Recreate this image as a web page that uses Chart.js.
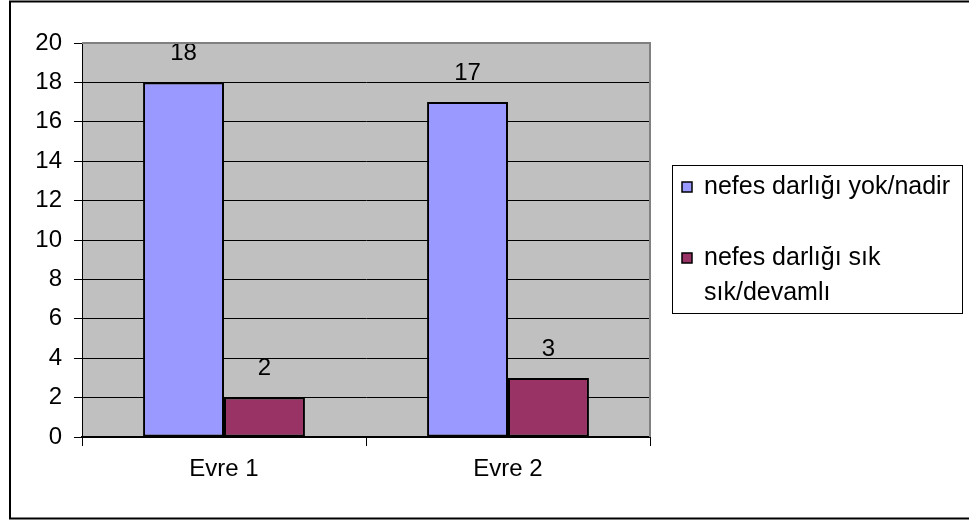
<!DOCTYPE html>
<html lang="tr">
<head>
    <meta charset="UTF-8">
    <title>Nefes darlığı - Evre</title>
    <style>
        body {
            margin: 0;
            padding: 0;
            background: #fff;
        }
        #chartBox {
            width: 969px;
            height: 522px;
        }
    </style>
</head>
<body>
    <div id="chartBox">
        <canvas id="barChart" width="969" height="522"></canvas>
    </div>

    <script src="https://cdn.jsdelivr.net/npm/chart.js"></script>
    <script>
        // Chart data
        const categories = ['Evre 1', 'Evre 2'];
        const seriesLabels = [['nefes darlığı yok/nadir'], ['nefes darlığı sık', 'sık/devamlı']];
        const rareValues = [18, 17];
        const frequentValues = [2, 3];
        const yTicks = [0, 2, 4, 6, 8, 10, 12, 14, 16, 18, 20];

        const FONT = '"Liberation Sans", Arial, sans-serif';

        // Gray plot background, gray top/right edge and the outer frame
        const frame = {
            id: 'frame',
            beforeDraw(chart) {
                const { ctx, chartArea: a } = chart;
                ctx.save();
                ctx.fillStyle = '#c0c0c0';
                ctx.fillRect(a.left, a.top, a.right - a.left, a.bottom - a.top);
                ctx.restore();
            },
            afterDraw(chart) {
                const { ctx, chartArea: a } = chart;
                ctx.save();
                ctx.strokeStyle = '#808080';
                ctx.lineWidth = 2;
                ctx.beginPath();
                ctx.moveTo(a.left, a.top);
                ctx.lineTo(a.right, a.top);
                ctx.lineTo(a.right, a.bottom);
                ctx.stroke();

                ctx.strokeStyle = '#000';
                ctx.lineWidth = 2;
                ctx.strokeRect(10, 1.5, 980, 517);
                ctx.restore();
            }
        };

        // Value printed above each bar
        const valueLabels = {
            id: 'valueLabels',
            afterDatasetsDraw(chart) {
                const { ctx } = chart;
                ctx.save();
                ctx.font = '24px ' + FONT;
                ctx.fillStyle = '#000';
                ctx.textAlign = 'center';
                ctx.textBaseline = 'middle';
                chart.data.datasets.forEach((ds, i) => {
                    chart.getDatasetMeta(i).data.forEach((bar, j) => {
                        ctx.fillText(String(ds.data[j]), bar.x, bar.y - 29);
                    });
                });
                ctx.restore();
            }
        };

        // Boxed legend on the right, labels may span two lines
        const boxLegend = {
            id: 'boxLegend',
            afterDraw(chart) {
                const { ctx } = chart;
                const left = 672, top = 165, right = 962, bottom = 313;
                const itemTops = [187, 258];
                const lineGap = 35;
                ctx.save();
                ctx.fillStyle = '#fff';
                ctx.fillRect(left, top, right - left, bottom - top);
                ctx.strokeStyle = '#000';
                ctx.lineWidth = 1;
                ctx.strokeRect(left + 0.5, top + 0.5, right - left, bottom - top);

                ctx.font = '25px ' + FONT;
                ctx.textBaseline = 'middle';
                ctx.textAlign = 'left';
                chart.data.datasets.forEach((ds, i) => {
                    const y = itemTops[i];
                    ctx.fillStyle = ds.backgroundColor;
                    ctx.fillRect(682, y - 5, 10, 10);
                    ctx.strokeStyle = '#000';
                    ctx.lineWidth = 1.5;
                    ctx.strokeRect(682, y - 5, 10, 10);
                    ctx.fillStyle = '#000';
                    ds.label.forEach((line, k) => {
                        ctx.fillText(line, 704, y + k * lineGap);
                    });
                });
                ctx.restore();
            }
        };

        new Chart(document.getElementById('barChart'), {
            type: 'bar',
            data: {
                labels: categories,
                datasets: [
                    {
                        label: seriesLabels[0],
                        data: rareValues,
                        backgroundColor: '#9999ff',
                        borderColor: '#000',
                        borderWidth: 2,
                        borderSkipped: false
                    },
                    {
                        label: seriesLabels[1],
                        data: frequentValues,
                        backgroundColor: '#993366',
                        borderColor: '#000',
                        borderWidth: 2,
                        borderSkipped: false
                    }
                ]
            },
            options: {
                responsive: false,
                animation: false,
                devicePixelRatio: 1,
                categoryPercentage: 0.57,
                barPercentage: 1,
                layout: {
                    padding: { left: 0, top: 43, right: 319, bottom: 0 }
                },
                plugins: {
                    legend: { display: false },
                    tooltip: { enabled: false }
                },
                scales: {
                    y: {
                        min: 0,
                        max: 20,
                        afterFit(scale) { scale.width = 82; },
                        afterBuildTicks(scale) {
                            scale.ticks = yTicks.map(v => ({ value: v }));
                        },
                        grid: {
                            color: '#000',
                            lineWidth: 1,
                            tickLength: 8,
                            tickColor: '#000'
                        },
                        border: { color: '#000', width: 1 },
                        ticks: {
                            color: '#000',
                            padding: 12,
                            font: { family: FONT, size: 24 }
                        }
                    },
                    x: {
                        afterFit(scale) { scale.height = 85; },
                        grid: {
                            drawOnChartArea: false,
                            tickLength: 9,
                            tickColor: '#000',
                            offset: true
                        },
                        border: { color: '#000', width: 2 },
                        ticks: {
                            color: '#000',
                            padding: 9,
                            font: { family: FONT, size: 24 }
                        }
                    }
                }
            },
            plugins: [frame, valueLabels, boxLegend]
        });
    </script>
</body>
</html>
